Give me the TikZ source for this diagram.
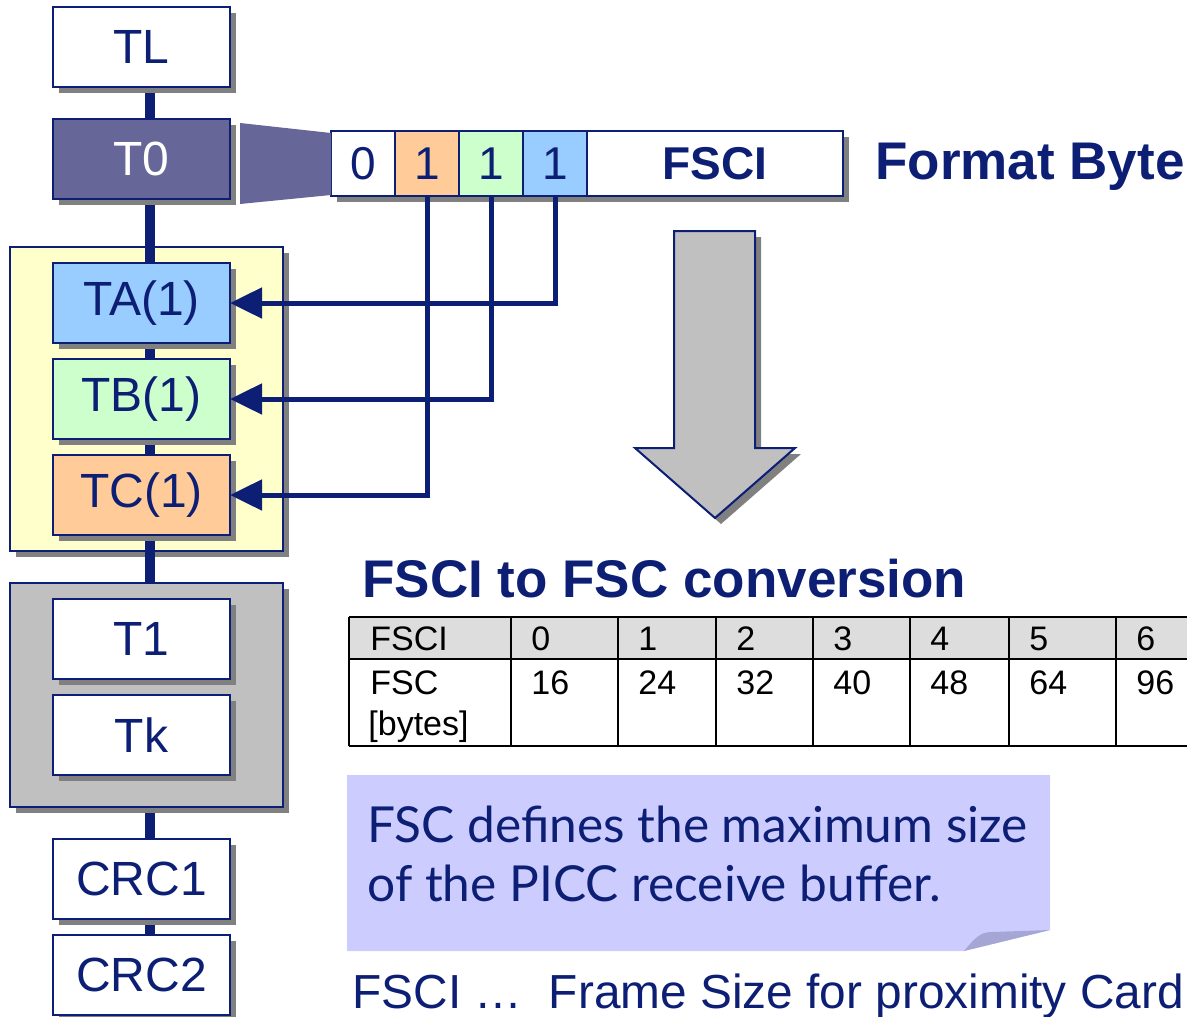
\documentclass[tikz,border=0pt]{standalone}
\usepackage{fontspec}
\setmainfont{Liberation Sans}
\newfontfamily\notefont{Lato}
\usetikzlibrary{arrows.meta,positioning,calc,shadows}
\pgfdeclarelayer{bg}
\pgfsetlayers{bg,main}

\definecolor{fieldnavy}{RGB}{12,31,116}
\definecolor{tzero}{RGB}{102,102,153}
\definecolor{bitorange}{RGB}{255,204,153}
\definecolor{bitgreen}{RGB}{204,255,204}
\definecolor{bitblue}{RGB}{153,204,255}
\definecolor{panelyellow}{RGB}{255,255,204}
\definecolor{panelgray}{RGB}{192,192,192}
\definecolor{shadowgray}{RGB}{128,128,128}
\definecolor{notefill}{RGB}{204,204,255}
\definecolor{notefold}{RGB}{166,166,214}
\definecolor{headgray}{RGB}{221,221,221}

\tikzset{
  graycast/.style={
    drop shadow={shadow xshift=3pt, shadow yshift=-3pt, fill=shadowgray, opacity=1}
  },
  field/.style={
    draw=fieldnavy,
    line width=1pt,
    fill=white,
    text=fieldnavy,
    minimum width=88.5pt,
    minimum height=40pt,
    inner sep=0pt,
    outer sep=0pt,
    font=\fontsize{24}{28}\selectfont,
    graycast
  },
  bitcell/.style={
    draw=fieldnavy,
    line width=1pt,
    fill=white,
    text=fieldnavy,
    minimum width=32pt,
    minimum height=32.5pt,
    inner sep=0pt,
    outer sep=0pt,
    font=\fontsize{23}{27}\selectfont,
    graycast
  },
  panel/.style={draw=fieldnavy, line width=1pt, graycast},
  spine/.style={draw=fieldnavy, line width=5pt},
  bitarrow/.style={draw=fieldnavy, line width=2.5pt, -{Triangle[length=16pt,width=15pt]}},
  heading/.style={anchor=base west, inner sep=0pt, text=fieldnavy, font=\bfseries\fontsize{26.5}{30}\selectfont},
  cell/.style={anchor=base west, inner sep=0pt, font=\fontsize{17}{20}\selectfont},
  tablerule/.style={draw=black, line width=0.8pt}
}

\begin{document}
\begin{tikzpicture}[x=0.5pt, y=-0.5pt]
\clip (0,0) rectangle (1187,1016);

% block fields, top to bottom
\node[field] (TL) at (141.5,47) {TL};
\node[field, fill=tzero, text=white, below=16pt of TL] (T0) {T0};
\node[field, fill=bitblue, below=32pt of T0] (TA) {TA(1)};
\node[field, fill=bitgreen, below=8pt of TA] (TB) {TB(1)};
\node[field, fill=bitorange, below=8pt of TB] (TC) {TC(1)};
\node[field, below=32pt of TC] (T1) {T1};
\node[field, below=8pt of T1] (Tk) {Tk};
\node[field, below=32pt of Tk] (CRC1) {CRC1};
\node[field, below=8pt of CRC1] (CRC2) {CRC2};

% panels and the spine behind the fields
\begin{pgfonlayer}{bg}
  \draw[panel, fill=panelyellow] ($(TA.north west)+(-43,-16)$) rectangle ($(TC.south east)+(53,16)$);
  \coordinate (spinetop) at ($(TL.south)+(8.5,0)$);
  \coordinate (spinebot) at ($(CRC2.north)+(8.5,0)$);
  \draw[spine] (spinetop) -- (spinebot);
  \draw[panel, fill=panelgray] ($(T1.north west)+(-43,-16)$) rectangle ($(Tk.south east)+(53,32)$);
\end{pgfonlayer}

% format byte
\node[bitcell] (b0) at (363,163.5) {0};
\node[bitcell, fill=bitorange, right=0pt of b0] (b1) {1};
\node[bitcell, fill=bitgreen, right=0pt of b1] (b2) {1};
\node[bitcell, fill=bitblue, right=0pt of b2] (b3) {1};
\node[bitcell, minimum width=128pt, font=\bfseries\fontsize{23}{27}\selectfont, right=0pt of b3] (fsci) {FSCI};
\node[heading] (bytetitle) at (875,180) {Format Byte};

\fill[tzero] ($(T0.north east)+(10,4)$) -- ($(b0.north west)+(0,2)$)
  -- ($(b0.south west)+(0,-1)$) -- ($(T0.south east)+(10,5)$) -- cycle;

\draw[bitarrow] (b3.south) |- (TA.east);
\draw[bitarrow] (b2.south) |- (TB.east);
\draw[bitarrow] (b1.south) |- (TC.east);

% big arrow down to the table
\filldraw[draw=fieldnavy, line width=1pt, fill=panelgray, graycast]
  (674,231) -- (755,231) -- (755,448) -- (795,448) -- (715,518)
  -- (635,448) -- (674,448) -- cycle;

% conversion table
\node[heading] (tabletitle) at (362,597) {FSCI to FSC conversion};
\fill[headgray] (349,617) rectangle (1215,659);
\foreach \y in {617,659,746}
  \draw[tablerule] (349,\y) -- (1215,\y);
\foreach \x in {349,511,618,716,813,910,1009,1116}
  \draw[tablerule] (\x,617) -- (\x,746);
\node[cell] (fscihead) at (370,650) {FSCI};
\node[cell] (fschead) at (370,694) {FSC};
\node[cell] (byteshead) at (368,735) {[bytes]};
\foreach \x/\i/\v in {511/0/16, 618/1/24, 716/2/32, 813/3/40, 910/4/48, 1009/5/64, 1116/6/96} {
  \node[cell] (fsci\i) at ({\x+20},650) {\i};
  \node[cell] (fsc\i) at ({\x+20},694) {\v};
}

% note with folded corner
\fill[notefill] (347,775) -- (1050,775) -- (1050,930) -- (964,951) -- (347,951) -- cycle;
\fill[notefold] (964,951) .. controls (975,938) and (980,932) .. (992,932) -- (1050,930) -- cycle;
\node[anchor=north west, inner sep=0pt, align=left, text=fieldnavy,
  font=\notefont\fontsize{24.8}{29.5}\selectfont] (note) at (367,806)
  {FSC defines the maximum size\\of the PICC receive buffer.};

\node[anchor=base west, inner sep=0pt, text=fieldnavy, font=\fontsize{23.9}{27}\selectfont]
  (legend) at (352,1008) {FSCI …\ \ Frame Size for proximity Card};
\end{tikzpicture}
\end{document}
